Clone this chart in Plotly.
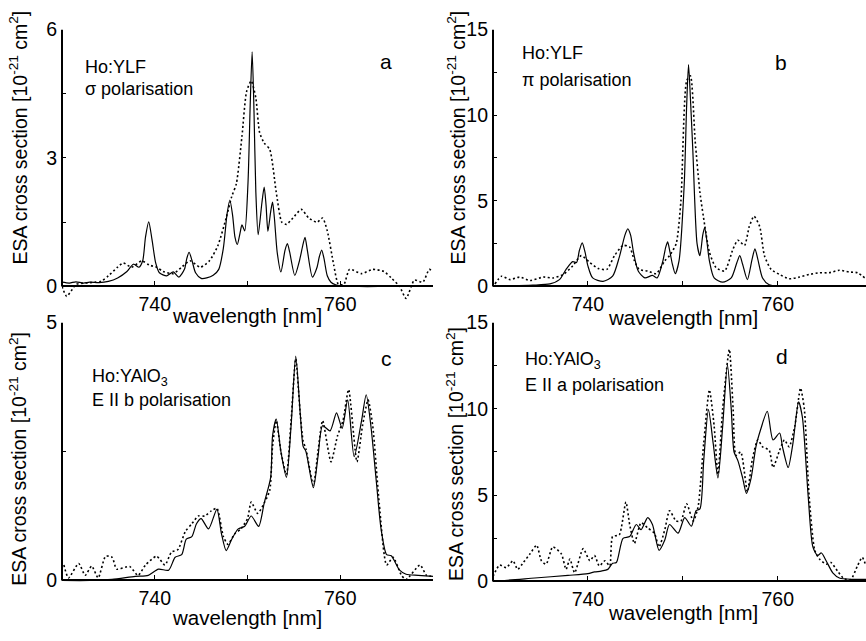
import plotly.graph_objects as go

W, H = 866, 641

# ---------------- data (wavelength nm, ESA cross section 1e-21 cm^2) ----------------
a_solid_x = [730.0, 730.8, 731.5, 732.3, 733.0, 734.0, 735.0, 736.0, 737.0, 737.7, 738.3, 738.7,
             739.0, 739.35, 739.7, 740.1, 740.5, 741.3, 742.0, 742.6, 743.2, 743.45, 743.7, 744.0,
             744.4, 745.0, 745.6, 746.3, 746.9, 747.4, 747.8, 748.1, 748.4, 748.65, 748.9, 749.2,
             749.4, 749.7, 750.05, 750.3, 750.5, 750.7, 750.9, 751.15, 751.55, 751.8, 752.0,
             752.2, 752.5, 752.7, 752.9, 753.2, 753.6, 754.05, 754.3, 754.55, 755.1, 755.6,
             755.95, 756.2, 756.45, 757.0, 757.5, 757.75, 758.0, 758.25, 758.6, 759.0, 759.5,
             760.0, 762.0, 765.0, 770.0]
a_solid_y = [0.10, 0.08, 0.11, 0.08, 0.10, 0.09, 0.12, 0.20, 0.35, 0.52, 0.45, 0.60,
             1.15, 1.51, 1.10, 0.55, 0.32, 0.25, 0.34, 0.22, 0.40, 0.65, 0.80, 0.62,
             0.32, 0.19, 0.20, 0.26, 0.40, 0.90, 1.70, 2.02, 1.65, 1.15, 0.98, 1.25,
             1.44, 1.30, 2.40, 4.30, 5.48, 4.10, 2.20, 1.21, 1.95, 2.32, 1.90,
             1.29, 1.75, 1.97, 1.60, 0.80, 0.34, 0.85, 1.00, 0.80, 0.26, 0.60,
             0.95, 1.15, 0.85, 0.22, 0.45, 0.70, 0.85, 0.65, 0.25, 0.10, 0.04,
             0.02, 0.0, 0.0, 0.0]
a_dot_x = [730.0, 730.5, 731.0, 731.5, 732.5, 733.5, 734.2, 735.0, 736.0, 736.6, 737.5, 738.6,
           739.4, 740.2, 740.9, 742.0, 742.9, 743.8, 744.9, 745.9, 746.8, 747.7, 748.3, 748.8,
           749.4, 749.9, 750.4, 750.9, 751.3, 751.8, 752.4, 753.1, 753.7, 754.2, 754.9, 755.8,
           756.6, 757.5, 758.1, 758.6, 759.3, 759.8, 760.4, 761.0, 762.3, 763.5, 764.7, 765.5,
           766.4, 767.1, 768.0, 768.9, 769.6, 770.0]
a_dot_y = [0.0, -0.23, -0.10, 0.05, 0.08, 0.10, 0.12, 0.25, 0.45, 0.55, 0.45, 0.60,
           0.50, 0.45, 0.35, 0.30, 0.45, 0.60, 0.45, 0.60, 0.95, 1.60, 2.10, 2.40,
           3.50, 4.55, 4.80, 4.40, 3.60, 3.35, 3.20, 2.20, 1.50, 1.45, 1.60, 1.80,
           1.60, 1.50, 1.60, 1.30, 0.50, 0.05, 0.05, 0.40, 0.30, 0.40, 0.35, 0.20,
           0.0, -0.28, 0.15, 0.10, 0.40, 0.35]

b_solid_x = [730.0, 732.0, 734.2, 736.0, 737.0, 737.7, 738.4, 738.8, 739.1, 739.4, 739.7, 740.0,
             740.5, 741.6, 742.6, 743.3, 743.9, 744.2, 744.5, 744.8, 745.3, 746.0, 746.8, 747.3,
             747.9, 748.2, 748.4, 748.65, 748.9, 749.2, 749.6, 750.15, 750.4, 750.6, 750.8,
             751.05, 751.5, 751.8, 752.1, 752.3, 752.5, 752.8, 753.3, 754.2, 755.1, 755.7,
             756.0, 756.3, 756.8, 757.3, 757.6, 757.9, 758.4, 759.1, 760.2, 763.0, 769.3]
b_solid_y = [0.05, 0.05, 0.08, 0.15, 0.40, 1.00, 1.45, 1.40, 2.10, 2.55, 2.00, 1.20,
             0.50, 0.30, 0.60, 1.70, 3.00, 3.36, 3.00, 2.00, 0.90, 0.50, 0.65, 0.50,
             1.50, 2.30, 2.60, 2.00, 1.30, 0.75, 1.50, 6.00, 10.50, 12.95, 11.00,
             8.00, 2.50, 1.80, 3.00, 3.44, 2.80, 1.50, 0.50, 0.25, 0.50, 1.40,
             1.80, 1.30, 0.40, 1.60, 2.20, 1.60, 0.50, 0.10, 0.02, 0.0, 0.0]
b_dot_x = [730.2, 730.9, 731.8, 732.8, 733.9, 735.3, 736.3, 737.4, 738.4, 739.3, 740.2, 741.1,
           742.0, 742.8, 743.7, 744.4, 744.9, 745.4, 746.3, 747.2, 748.1, 748.6, 749.3, 749.8,
           750.4, 750.8, 751.3, 751.8, 752.3, 752.8, 753.5, 754.4, 755.3, 755.8, 756.5, 757.0,
           757.5, 758.1, 758.6, 759.3, 760.2, 761.2, 762.3, 763.3, 764.4, 765.4, 766.5, 767.5,
           768.4, 769.3]
b_dot_y = [0.15, 0.60, 0.40, 0.55, 0.35, 0.55, 0.50, 0.70, 1.20, 1.80, 1.40, 1.05,
           1.00, 1.80, 2.40, 2.30, 1.50, 1.00, 0.90, 0.75, 1.50, 1.80, 2.50, 5.00,
           12.00, 12.30, 8.50, 5.50, 3.60, 2.00, 1.10, 0.90, 2.20, 2.70, 2.40, 3.50,
           4.10, 3.50, 1.80, 1.00, 0.70, 0.45, 0.55, 0.70, 0.80, 0.80, 0.95, 0.85,
           0.80, 0.45]

c_solid_x = [730.0, 733.0, 735.4, 737.9, 739.3, 740.4, 741.5, 742.2, 742.9, 743.4, 744.0, 744.5,
             745.0, 745.8, 746.7, 747.2, 747.7, 748.3, 749.0, 749.7, 750.4, 751.2, 751.8, 752.5,
             752.7, 753.1, 753.6, 754.2, 754.7, 755.2, 755.7, 756.0, 756.3, 757.1, 757.6, 758.1,
             758.9, 759.6, 760.2, 760.8, 761.5, 762.3, 762.8, 763.3, 763.9, 764.4, 765.0, 765.5,
             766.4, 767.1, 768.4, 770.0]
c_solid_y = [0.0, 0.0, 0.02, 0.08, 0.10, 0.22, 0.20, 0.45, 0.50, 0.80, 0.85, 1.10,
             1.20, 1.00, 1.38, 0.90, 0.58, 0.80, 1.00, 1.05, 1.25, 1.05, 1.50, 2.00,
             2.80, 3.13, 2.50, 2.00, 3.00, 4.35, 3.20, 2.60, 2.50, 1.80, 2.40, 3.00,
             2.90, 3.25, 2.95, 3.50, 2.40, 3.10, 3.60, 3.00, 1.90, 1.00, 0.50, 0.48,
             0.20, 0.12, 0.10, 0.08]
c_dot_x = [730.2, 730.7, 731.8, 732.5, 733.2, 733.9, 734.7, 735.4, 735.9, 737.3, 738.2, 739.0,
           740.2, 741.1, 741.8, 742.5, 743.3, 744.0, 744.7, 745.4, 746.1, 746.7, 747.4, 747.9,
           748.6, 749.3, 750.0, 750.4, 751.1, 751.8, 752.4, 752.7, 753.1, 753.6, 754.2, 754.7,
           755.2, 755.7, 756.0, 756.3, 757.1, 757.6, 758.1, 759.0, 759.7, 760.3, 760.9, 761.8,
           762.4, 763.0, 763.5, 764.2, 765.0, 765.7, 766.6, 767.1, 768.6, 769.3, 770.0]
c_dot_y = [0.30, 0.05, 0.33, 0.10, 0.28, 0.05, 0.47, 0.45, 0.22, 0.27, 0.10, 0.30,
           0.47, 0.30, 0.55, 0.60, 0.95, 1.10, 1.25, 1.25, 1.35, 1.40, 0.85, 0.70,
           0.90, 1.00, 1.20, 1.52, 1.30, 1.50, 1.75, 2.60, 3.10, 2.50, 2.05, 3.10,
           4.30, 3.20, 2.70, 2.55, 1.85, 2.50, 3.10, 2.30, 2.80, 3.10, 3.70, 2.30,
           3.00, 3.50, 3.00, 1.50, 0.30, 0.45, 0.10, 0.02, 0.30, 0.10, 0.08]

d_solid_x = [730.0, 730.9, 734.4, 737.9, 740.0, 740.7, 741.4, 742.1, 742.6, 743.0, 743.7, 744.4,
             745.1, 745.6, 746.3, 746.8, 747.5, 748.1, 748.6, 749.5, 750.2, 750.9, 751.4, 751.8,
             752.2, 752.7, 753.2, 753.7, 754.2, 754.7, 755.1, 755.4, 755.8, 756.3, 756.7, 757.2,
             757.7, 758.2, 758.9, 759.5, 760.2, 760.5, 761.1, 761.6, 762.2, 762.6, 763.2, 763.7,
             764.2, 764.6, 765.1, 765.8, 766.5, 767.9, 769.3]
d_solid_y = [0.05, 0.05, 0.20, 0.35, 0.45, 0.55, 0.60, 0.70, 1.05, 1.10, 2.50, 2.60,
             3.30, 3.00, 3.70, 3.30, 1.80, 2.40, 3.30, 2.80, 3.70, 3.20, 4.10, 4.20,
             7.00, 9.95, 8.00, 6.00, 9.00, 12.55, 10.00, 7.50, 7.00, 6.00, 5.10, 6.00,
             7.80, 8.80, 9.86, 8.20, 8.60, 7.80, 6.60, 8.00, 10.40, 9.50, 5.00, 2.00,
             1.50, 1.65, 1.20, 0.50, 0.20, 0.12, 0.12]
d_dot_x = [730.0, 730.7, 731.4, 732.1, 732.6, 733.2, 733.9, 734.6, 735.1, 735.6, 736.3, 737.2,
           737.7, 738.1, 738.6, 739.5, 740.2, 740.7, 741.2, 741.8, 742.3, 742.6, 743.3, 744.0,
           744.4, 744.9, 745.6, 746.3, 747.0, 747.5, 748.1, 748.6, 749.3, 749.8, 750.4, 751.1,
           751.6, 752.2, 752.8, 753.3, 753.7, 754.2, 754.9, 755.3, 755.6, 756.1, 756.8, 757.3,
           757.9, 758.4, 759.1, 759.5, 760.2, 760.7, 761.2, 761.8, 762.4, 762.8, 763.3, 763.9,
           764.4, 765.1, 765.6, 766.3, 767.0, 767.7, 768.4, 768.9, 769.3]
d_dot_y = [0.30, 0.95, 0.80, 1.20, 0.70, 1.10, 1.60, 2.10, 1.20, 1.00, 2.00, 1.60,
           0.70, 1.30, 0.50, 1.90, 1.20, 1.50, 0.90, 1.20, 0.90, 2.60, 2.70, 4.60,
           3.30, 2.20, 3.40, 3.10, 2.80, 2.00, 3.00, 4.10, 3.50, 3.50, 4.50, 3.50,
           4.30, 8.00, 11.10, 9.00, 6.20, 10.00, 13.45, 10.00, 7.30, 7.50, 5.20, 7.00,
           8.20, 7.80, 7.60, 6.60, 7.60, 8.20, 7.80, 9.00, 11.20, 10.00, 5.00, 1.80,
           1.30, 1.00, 1.10, 0.60, 0.15, 0.12, 0.90, 1.40, 0.90]

x_tick_vals = [740, 750, 760]
x_tick_text = ["740", "", "760"]
y_ticks = {
    "a": ([0, 1.5, 3, 4.5, 6], ["0", "", "3", "", "6"]),
    "b": ([0, 2.5, 5, 7.5, 10, 12.5, 15], ["0", "", "5", "", "10", "", "15"]),
    "c": ([0, 2.5, 5], ["0", "", "5"]),
    "d": ([0, 2.5, 5, 7.5, 10, 12.5, 15], ["0", "", "5", "", "10", "", "15"]),
}
y_max = {"a": 6, "b": 15, "c": 5, "d": 15}
labels = {
    "a": ("Ho:YLF", "σ polarisation"),
    "b": ("Ho:YLF", "π polarisation"),
    "c": ("Ho:YAlO<sub>3</sub>", "E II b polarisation"),
    "d": ("Ho:YAlO<sub>3</sub>", "E II a polarisation"),
}

# ---------------- layout geometry (pixels) ----------------
def px(x):
    return x / W

def py(y):
    return 1 - y / H

FONT = "Arial, Liberation Sans, Helvetica, sans-serif"
panels = {
    # key: (xdomain px, y of zero px, y of top px, ymin, xrange)
    "a": ((62, 433), 283, 19, -0.40, [730, 770]),
    "b": ((493, 866), 283, 19, -0.30, [730, 769.3]),
    "c": ((62, 433), 585, 320, -0.10, [730, 770]),
    "d": ((493, 866), 586, 320, -0.30, [730, 769.3]),
}
series = {
    "a": (a_solid_x, a_solid_y, a_dot_x, a_dot_y),
    "b": (b_solid_x, b_solid_y, b_dot_x, b_dot_y),
    "c": (c_solid_x, c_solid_y, c_dot_x, c_dot_y),
    "d": (d_solid_x, d_solid_y, d_dot_x, d_dot_y),
}
text_pos = {
    "a": ((83, 58), (83, 80), (386, 52)),
    "b": ((520, 43), (520, 71), (781, 53)),
    "c": ((90, 376), (90, 400), (386, 357)),
    "d": ((523, 359), (523, 384), (782, 355)),
}
ytitle_pos = {"a": (18, 130), "b": (456, 130), "c": (18, 460), "d": (455, 455)}
xtitle_pos = {"a": (247, 313), "b": (683, 315), "c": (247, 623), "d": (683, 618)}

fig = go.Figure()
shapes = []
annotations = []
layout = {}

for i, k in enumerate(["a", "b", "c", "d"], start=1):
    (x0p, x1p), y0px, ytpx, ymin, xr = panels[k]
    ymax = y_max[k]
    scale = (y0px - ytpx) / ymax
    ybot = y0px - ymin * scale
    ydom = [py(ybot), py(ytpx)]
    xdom = [px(x0p), min(1.0, px(x1p))]
    xpos = ydom[0] + (0 - ymin) / (ymax - ymin) * (ydom[1] - ydom[0])
    sx = "" if i == 1 else str(i)
    xa, ya = "x" + sx, "y" + sx
    sxs, sys_, sdx, sdy = series[k]
    fig.add_trace(go.Scatter(x=sdx, y=sdy, mode="lines", xaxis=xa, yaxis=ya,
                             line=dict(color="black", width=1.6, dash="2px,2.5px",
                                       shape="spline", smoothing=0.6),
                             showlegend=False, hoverinfo="skip"))
    fig.add_trace(go.Scatter(x=sxs, y=sys_, mode="lines", xaxis=xa, yaxis=ya,
                             line=dict(color="black", width=1.2, shape="spline", smoothing=0.7),
                             showlegend=False, hoverinfo="skip"))
    tv, tt = y_ticks[k]
    layout["xaxis" + sx] = dict(domain=xdom, range=xr, anchor="free", position=xpos,
                                showline=True, linecolor="black", linewidth=2,
                                ticks="inside", ticklen=4, tickwidth=1, tickcolor="black",
                                tickvals=x_tick_vals, ticktext=x_tick_text,
                                tickfont=dict(size=19.5, color="black", family=FONT),
                                showgrid=False, zeroline=False)
    layout["yaxis" + sx] = dict(domain=ydom, range=[ymin, ymax], anchor=xa,
                                showline=False, ticks="inside", ticklen=4, tickwidth=1,
                                tickcolor="black", tickvals=tv, ticktext=tt,
                                ticklabelstandoff=4,
                                tickfont=dict(size=19.5, color="black", family=FONT),
                                showgrid=False, zeroline=False)
    shapes.append(dict(type="line", xref=xa + " domain", x0=0, x1=0, yref=ya, y0=0, y1=ymax,
                       line=dict(color="black", width=2)))
    (l1, l2) = labels[k]
    p1, p2, p3 = text_pos[k]
    annotations.append(dict(text=l1, x=px(p1[0]), y=py(p1[1]), xref="paper", yref="paper",
                            xanchor="left", yanchor="middle", showarrow=False,
                            font=dict(size=18, color="black", family=FONT)))
    annotations.append(dict(text=l2, x=px(p2[0]), y=py(p2[1]), xref="paper", yref="paper",
                            xanchor="left", yanchor="middle", showarrow=False,
                            font=dict(size=18, color="black", family=FONT)))
    annotations.append(dict(text=k, x=px(p3[0]), y=py(p3[1]), xref="paper", yref="paper",
                            xanchor="center", yanchor="middle", showarrow=False,
                            font=dict(size=21, color="black", family=FONT)))
    yt = ytitle_pos[k]
    annotations.append(dict(text="ESA cross section [10<sup>-21</sup> cm<sup>2</sup>]",
                            x=px(yt[0]), y=py(yt[1]), xref="paper", yref="paper",
                            xanchor="center", yanchor="middle", textangle=-90, showarrow=False,
                            font=dict(size=19.5, color="black", family=FONT)))
    xt = xtitle_pos[k]
    annotations.append(dict(text="wavelength [nm]", x=px(xt[0]), y=py(xt[1]),
                            xref="paper", yref="paper", xanchor="center", yanchor="middle",
                            showarrow=False, font=dict(size=20.5, color="black", family=FONT)))

fig.update_layout(width=W, height=H, margin=dict(l=0, r=0, t=0, b=0),
                  paper_bgcolor="white", plot_bgcolor="white",
                  shapes=shapes, annotations=annotations, **layout)
fig.write_html("out.html", config={"displayModeBar": False},
               post_script="document.body.style.margin='0';document.body.style.overflow='hidden';")
